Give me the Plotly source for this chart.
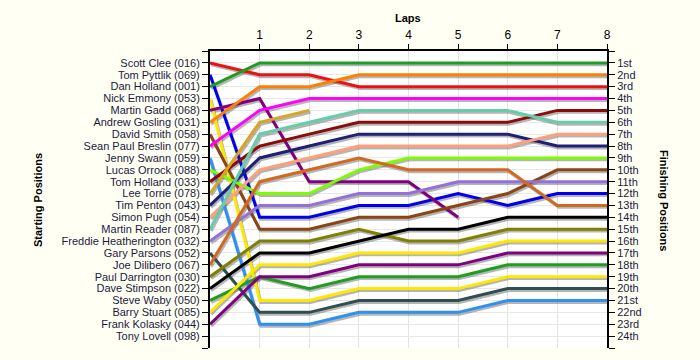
import plotly.graph_objects as go

laps = list(range(9))
lap_ticks = [1, 2, 3, 4, 5, 6, 7, 8]

drivers = [
    "Scott Clee (016)", "Tom Pyttlik (069)", "Dan Holland (001)", "Nick Emmony (053)",
    "Martin Gadd (068)", "Andrew Gosling (031)", "David Smith (058)", "Sean Paul Breslin (077)",
    "Jenny Swann (059)", "Lucas Orrock (088)", "Tom Holland (033)", "Lee Torrie (078)",
    "Tim Penton (043)", "Simon Pugh (054)", "Martin Reader (087)", "Freddie Heatherington (032)",
    "Gary Parsons (052)", "Joe Dilibero (067)", "Paul Darrington (030)", "Dave Stimpson (022)",
    "Steve Waby (050)", "Barry Stuart (085)", "Frank Kolasky (044)", "Tony Lovell (098)",
]

positions = [
    [1, 2, 2, 3, 3, 3, 3, 3, 3],
    [2, 14, 14, 13, 13, 12, 13, 12, 12],
    [3, 1, 1, 1, 1, 1, 1, 1, 1],
    [4, 21, 21, 20, 20, 20, 19, 19, 19],
    [5, 4, 11, 11, 11, 14],
    [6, 3, 3, 2, 2, 2, 2, 2, 2],
    [7, 15, 15, 14, 14, 13, 12, 10, 10],
    [8, 5, 4, 4, 4, 4, 4, 4, 4],
    [9, 23, 23, 22, 22, 22, 21, 21, 21],
    [10, 12, 12, 10, 9, 9, 9, 9, 9],
    [11, 8, 7, 6, 6, 6, 6, 5, 5],
    [12, 6, 5],
    [13, 9, 8, 7, 7, 7, 7, 8, 8],
    [14, 10, 9, 8, 8, 8, 8, 7, 7],
    [15, 7, 6, 5, 5, 5, 5, 6, 6],
    [16, 13, 13, 12, 12, 11, 11, 11, 11],
    [17, 22, 22, 21, 21, 21, 20, 20, 20],
    [18, 11, 10, 9, 10, 10, 10, 13, 13],
    [19, 16, 16, 15, 16, 16, 15, 15, 15],
    [20, 17, 17, 16, 15, 15, 14, 14, 14],
    [21, 19, 20, 19, 19, 19, 18, 18, 18],
    [22, 18, 18, 17, 17, 17, 16, 16, 16],
    [23, 19, 19, 18, 18, 18, 17, 17, 17],
    [],
]

colors = [
    "#EE1111", "#0000EE", "#1E9E1E", "#FFE800", "#800080", "#FF8000", "#8B4513", "#FF00FF",
    "#2E90F0", "#7CFC00", "#8B0A0A", "#DAA520", "#1F1F78", "#FFA07A", "#66CDAA", "#9370DB",
    "#2F4F4F", "#D2691E", "#808000", "#000000", "#1E9E1E", "#FFE800", "#800080", "#000000",
]

finish_labels = ["1st", "2nd", "3rd"] + [f"{i}th" for i in range(4, 21)] + ["21st", "22nd", "23rd", "24th"]

n = len(drivers)
rows = list(range(0, n + 2))
left_text = [""] + drivers + [""]
right_text = [""] + finish_labels + [""]

L, R, T, B = 210, 93, 51, 12
W, H = 700, 360
pw = W - L - R
ph = H - T - B

fig = go.Figure()

# shadows
for pos in positions:
    if not pos:
        continue
    fig.add_trace(go.Scatter(
        x=[l + 0.025 for l in laps[:len(pos)]], y=[p + 0.16 for p in pos],
        mode="lines", line=dict(color="rgba(90,90,90,0.45)", width=3),
        hoverinfo="skip", showlegend=False))

for name, pos, col in zip(drivers, positions, colors):
    if not pos:
        continue
    fig.add_trace(go.Scatter(
        x=laps[:len(pos)], y=pos, mode="lines", name=name,
        line=dict(color=col, width=3), showlegend=False, hoverinfo="skip"))

fig.add_trace(go.Scatter(x=[None], y=[None], yaxis="y2", showlegend=False, hoverinfo="skip"))

font = dict(family="Liberation Sans, Arial, sans-serif", size=11, color="#000000")

fig.update_layout(
    width=W, height=H,
    margin=dict(l=L, r=R, t=T, b=B, autoexpand=False),
    paper_bgcolor="#FFFFF3",
    plot_bgcolor="#FFFFFF",
    font=font,
    xaxis=dict(
        range=[0, 8], side="top", tickvals=lap_ticks, ticktext=[str(v) for v in lap_ticks],
        ticks="outside", ticklen=5, tickcolor="#000", showline=True, linecolor="#000", linewidth=2,
        showgrid=True, gridcolor="#E4E4E4", zeroline=False, tickfont=dict(size=12),
        automargin=False,
    ),
    yaxis=dict(
        range=[n + 1, 0], tickvals=rows, ticktext=left_text, ticks="outside", ticklen=6,
        tickcolor="#000", showline=True, linecolor="#000", linewidth=2,
        showgrid=True, gridcolor="#E8E8E8", zeroline=False, tickfont=dict(size=11, color="#1a1a40"),
        automargin=False,
    ),
    yaxis2=dict(
        range=[n + 1, 0], overlaying="y", side="right", tickvals=rows, ticktext=right_text,
        ticks="outside", ticklen=6, tickcolor="#000", showline=True, linecolor="#000", linewidth=2,
        showgrid=False, zeroline=False, tickfont=dict(size=11, color="#1a1a40"),
        automargin=False,
    ),
    annotations=[
        dict(text="<b>Laps</b>", x=(408 - L) / pw, y=(H - B - 18) / ph, xref="paper", yref="paper",
             showarrow=False, xanchor="center", yanchor="middle", font=dict(size=11)),
        dict(text="<b>Starting Positions</b>", x=(30 - L) / pw, y=(H - B - 200) / ph, xref="paper",
             yref="paper", showarrow=False, textangle=-90, font=dict(size=11)),
        dict(text="<b>Finishing Positions</b>", x=(672 - L) / pw, y=(H - B - 200) / ph, xref="paper",
             yref="paper", showarrow=False, textangle=90, font=dict(size=11)),
    ],
)

fig.write_html(
    "out.html",
    config={"displayModeBar": False},
    post_script="document.body.style.margin='0';document.body.style.background='#FFFFF3';",
)
